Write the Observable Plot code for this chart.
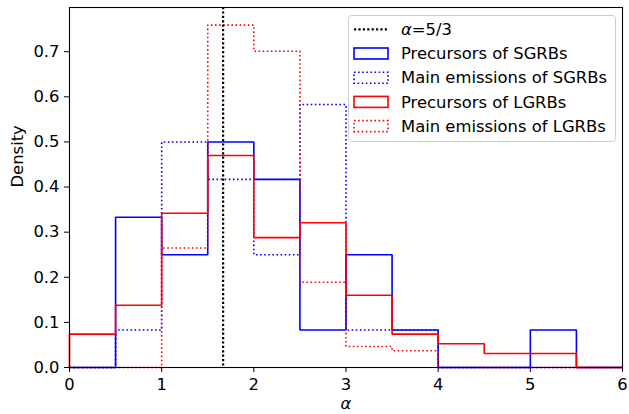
<!DOCTYPE html>
<html>
<head>
<meta charset="utf-8">
<script src="https://cdn.jsdelivr.net/npm/d3@7"></script>
<script src="https://cdn.jsdelivr.net/npm/@observablehq/plot@0.6"></script>
<style>
  html, body { margin: 0; padding: 0; background: #fff; }
  #chart { position: relative; width: 629px; height: 414px; }
  svg { font-family: "DejaVu Sans", sans-serif; }
</style>
</head>
<body>
<div id="chart"></div>
<script>
// Bin edges (alpha) and histogram densities
const binEdges = [0, 0.5, 1, 1.5, 2, 2.5, 3, 3.5, 4, 4.5, 5, 5.5, 6];
const precursorsSGRB = [0, 0.333, 0.25, 0.5, 0.417, 0.083, 0.25, 0.083, 0, 0, 0.083, 0];
const mainSGRB       = [0, 0.083, 0.5, 0.417, 0.25, 0.583, 0.083, 0.083, 0, 0, 0, 0];
const precursorsLGRB = [0.074, 0.138, 0.342, 0.470, 0.288, 0.321, 0.160, 0.074, 0.0525, 0.031, 0.031, 0];
const mainLGRB       = [0, 0, 0.265, 0.759, 0.701, 0.189, 0.0465, 0.037, 0, 0, 0, 0];
const alphaLine = 5 / 3;
const xTicks = [0, 1, 2, 3, 4, 5, 6];
const yTicks = [0, 0.1, 0.2, 0.3, 0.4, 0.5, 0.6, 0.7];

const seriesList = [
  {name: "Precursors of SGRBs", values: precursorsSGRB, color: "#0000ff", dotted: false},
  {name: "Main emissions of SGRBs", values: mainSGRB, color: "#0000ff", dotted: true},
  {name: "Precursors of LGRBs", values: precursorsLGRB, color: "#ff0000", dotted: false},
  {name: "Main emissions of LGRBs", values: mainLGRB, color: "#ff0000", dotted: true}
];

function stepPoints(values) {
  const pts = [{x: binEdges[0], y: 0}];
  values.forEach((v, i) => pts.push({x: binEdges[i], y: v}));
  const last = values[values.length - 1];
  pts.push({x: binEdges[binEdges.length - 1], y: last});
  pts.push({x: binEdges[binEdges.length - 1], y: 0});
  return pts;
}

const DOT = "1.6,2.5";
const FS = 16.4;

const marks = seriesList.map(s => Plot.line(stepPoints(s.values), {
  x: "x", y: "y", curve: "step-after", stroke: s.color, strokeWidth: 1.6,
  strokeDasharray: s.dotted ? DOT : null, strokeLinejoin: "miter", strokeLinecap: "butt"
}));

const plot = Plot.plot({
  width: 629,
  height: 414,
  marginLeft: 69,
  marginRight: 7,
  marginTop: 7,
  marginBottom: 47,
  style: {fontFamily: "DejaVu Sans, sans-serif", fontSize: FS + "px", background: "#fff", color: "#000"},
  x: {domain: [0, 6]},
  y: {domain: [0, 0.798]},
  marks: [
    ...marks,
    Plot.ruleX([alphaLine], {stroke: "#000", strokeWidth: 2.2, strokeDasharray: "2.2,2.2"}),
    Plot.frame({stroke: "#000", strokeWidth: 1.1}),
    Plot.axisX(xTicks, {tickSize: 5, tickPadding: 6, fontSize: FS, label: null, tickFormat: d => String(d)}),
    Plot.axisY(yTicks, {tickSize: 5, tickPadding: 5, fontSize: FS, label: null, tickFormat: d3.format(".1f")}),
    Plot.text(["α"], {frameAnchor: "bottom", dy: 41, fontSize: FS, fontStyle: "italic"}),
    Plot.text(["Density"], {frameAnchor: "left", dx: -52, rotate: -90, fontSize: FS})
  ]
});

document.getElementById("chart").appendChild(plot);

// Legend drawn inside the axes (upper right)
const svg = d3.select(plot);
const lg = svg.append("g").attr("font-family", "DejaVu Sans, sans-serif").attr("font-size", FS)
  .attr("text-anchor", "start");
lg.append("rect").attr("x", 348.5).attr("y", 15.5).attr("width", 267).attr("height", 126)
  .attr("rx", 3).attr("fill", "#fff").attr("fill-opacity", 0.8).attr("stroke", "#cccccc").attr("stroke-width", 1);
const rows = [29.3, 53.5, 77.7, 101.9, 126.1];
lg.append("line").attr("x1", 354).attr("x2", 388).attr("y1", rows[0]).attr("y2", rows[0])
  .attr("stroke", "#000").attr("stroke-width", 2.2).attr("stroke-dasharray", "2.2,2.2");
const t0 = lg.append("text").attr("x", 401).attr("y", rows[0]).attr("dy", "0.35em").attr("text-anchor", "start");
t0.append("tspan").attr("font-style", "italic").text("α");
t0.append("tspan").text("=5/3");
seriesList.forEach((s, i) => {
  const y = rows[i + 1];
  lg.append("rect").attr("x", 354).attr("y", y - 5.5).attr("width", 34).attr("height", 11)
    .attr("fill", "none").attr("stroke", s.color).attr("stroke-width", 1.6)
    .attr("stroke-dasharray", s.dotted ? DOT : null);
  lg.append("text").attr("x", 401).attr("y", y).attr("dy", "0.35em").attr("text-anchor", "start").text(s.name);
});
</script>
</body>
</html>
